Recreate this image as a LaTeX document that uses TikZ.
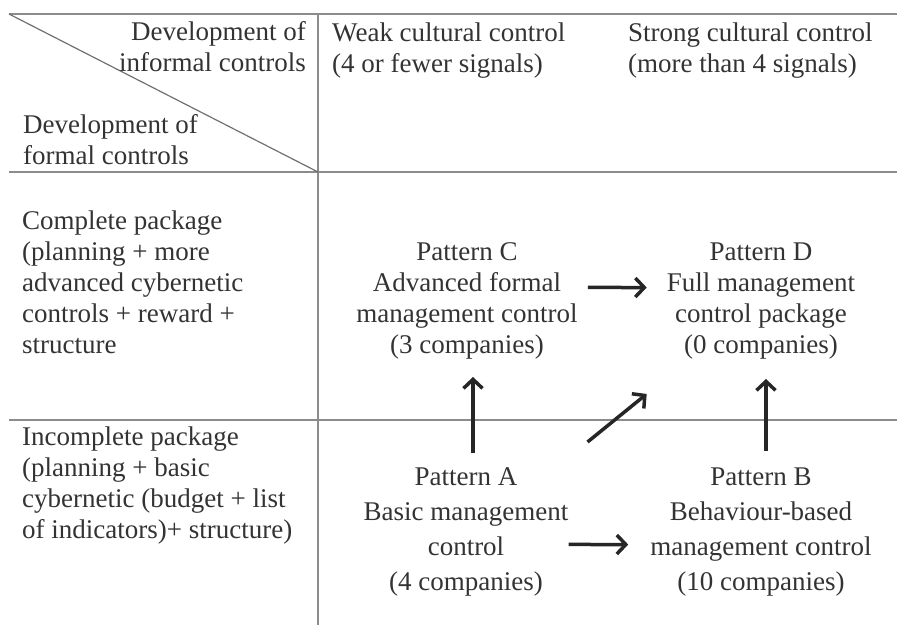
\documentclass[tikz,border=0pt]{standalone}
\usepackage{fontspec}
\setmainfont{Liberation Serif}
\usepackage{xcolor}
\usetikzlibrary{arrows.meta,calc}
\definecolor{ink}{HTML}{333333}
\definecolor{rule}{HTML}{8C8C8C}

\begin{document}
\begin{tikzpicture}[x=1pt,y=-1pt,
  rowhead/.style={font=\fontsize{27}{31}\selectfont, text=ink, inner sep=0pt, anchor=base west, align=left},
  patbox/.style={font=\fontsize{27}{35}\selectfont, text=ink, inner sep=0pt, anchor=base, align=center},
  grid/.style={draw=rule, line width=1.8pt},
  flow/.style={-{Straight Barb[length=9pt,width=19pt]}, line width=3.5pt, black!85}]
\useasboundingbox (0,0) rectangle (897,625);
% table rules
\draw[grid] (9,14) -- (897,14);
\draw[grid] (9,172) -- (897,172);
\draw[grid] (9,420) -- (897,420);
\draw[grid] (318,14) -- (318,625);
\draw[draw=rule!80!black, line width=1.2pt] (9,14) -- (318,172);
% corner cell (base = last line)
\node[rowhead, anchor=base east, align=right] (inf) at (306,71) {Development of\\informal controls};
\node[rowhead] (frm) at (23,164) {Development of\\formal controls};
% column heads
\node[rowhead] (weak) at (332,72) {Weak cultural control\\(4 or fewer signals)};
\node[rowhead] (strong) at (628,72) {Strong cultural control\\(more than 4 signals)};
% row heads
\node[rowhead] (cpl) at (22,353) {Complete package\\(planning + more\\advanced cybernetic\\controls + reward +\\structure};
\node[rowhead] (inc) at (22,538) {Incomplete package\\(planning + basic\\cybernetic (budget + list\\of indicators)+ structure)};
% patterns
\node[patbox, font=\fontsize{27}{31}\selectfont] (C) at (467,353) {Pattern C\\Advanced formal\\management control\\(3 companies)};
\node[patbox, font=\fontsize{27}{31}\selectfont] (D) at (761,353) {Pattern D\\Full management\\control package\\(0 companies)};
\node[patbox] (A) at (466,590) {Pattern A\\Basic management\\control\\(4 companies)};
\node[patbox] (B) at (761,590) {Pattern B\\Behaviour-based\\management control\\(10 companies)};
% moves between patterns
\draw[flow] ($(C.east)+(10,-13)$) -- ($(D.west)+(-20,-13)$);
\draw[flow] ($(A.north)+(7,-14)$) -- ($(C.south)+(6,18)$);
\draw[flow] ($(B.north)+(5,-16)$) -- ($(D.south)+(5,20)$);
\draw[flow] ($(A.north east)+(19,-25)$) -- ($(D.south west)+(-20,35)$);
\draw[flow] ($(A.east)+(0,13)$) -- ($(B.west)+(-22,13)$);
\end{tikzpicture}
\end{document}
